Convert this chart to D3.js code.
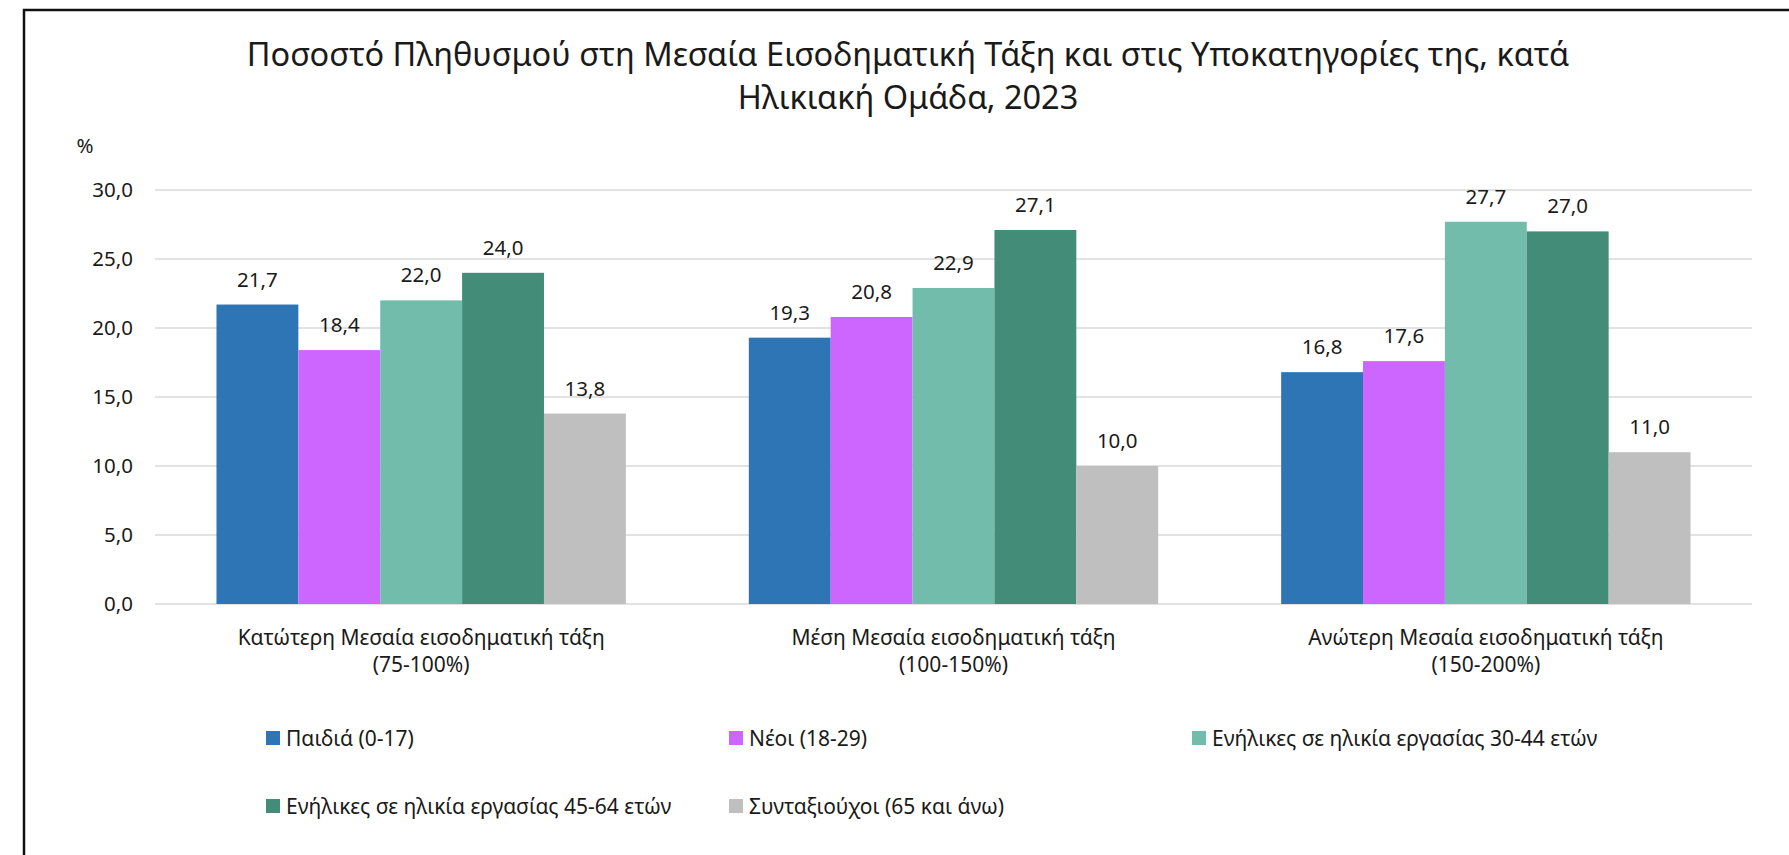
<!DOCTYPE html>
<html>
<head>
<meta charset="utf-8">
<script src="https://cdn.jsdelivr.net/npm/d3@7"></script>
<style>
  html, body { margin: 0; padding: 0; background: #fff; }
  svg { display: block; }
  text { font-family: "Noto Sans", "Open Sans", sans-serif; fill: #1a1a1a; }
</style>
</head>
<body>
<svg id="chart" width="1789" height="855"></svg>
<script>
// Income class groups (two-line category labels)
const categories = [
  ["Κατώτερη Μεσαία εισοδηματική τάξη", "(75-100%)"],
  ["Μέση Μεσαία εισοδηματική τάξη", "(100-150%)"],
  ["Ανώτερη Μεσαία εισοδηματική τάξη", "(150-200%)"]
];
// Age groups (series)
const seriesNames = [
  "Παιδιά (0-17)",
  "Νέοι (18-29)",
  "Ενήλικες σε ηλικία εργασίας 30-44 ετών",
  "Ενήλικες σε ηλικία εργασίας 45-64 ετών",
  "Συνταξιούχοι (65 και άνω)"
];
// Values per series, one entry per category
const children   = [21.7, 19.3, 16.8];
const young      = [18.4, 20.8, 17.6];
const adults3044 = [22.0, 22.9, 27.7];
const adults4564 = [24.0, 27.1, 27.0];
const pensioners = [13.8, 10.0, 11.0];
const seriesValues = [children, young, adults3044, adults4564, pensioners];
const seriesColors = ["#2E75B6", "#CC66FF", "#71BCAB", "#428C78", "#BFBFBF"];
const yTicks = [0, 5, 10, 15, 20, 25, 30];

const titleLines = [
  "Ποσοστό Πληθυσμού στη Μεσαία Εισοδηματική Τάξη και στις Υποκατηγορίες της, κατά",
  "Ηλικιακή Ομάδα, 2023"
];

const svg = d3.select("#chart");
const fmt = v => d3.format(".1f")(v).replace(".", ",");
const labelSize = "20.5px";

// Frame around the chart
svg.append("rect")
  .attr("x", 24).attr("y", 10)
  .attr("width", 1800).attr("height", 900)
  .attr("fill", "none").attr("stroke", "#111").attr("stroke-width", 2.5);

// Title
svg.append("g").selectAll("text").data(titleLines).join("text")
  .attr("x", 908).attr("y", (d, i) => 66 + i * 43)
  .attr("text-anchor", "middle")
  .style("font-size", "32.5px")
  .text(d => d);

const plot = { left: 155, right: 1752, top: 190, bottom: 604 };

const y = d3.scaleLinear().domain([0, 30]).range([plot.bottom, plot.top]);
const x0 = d3.scaleBand()
  .domain(d3.range(categories.length))
  .range([plot.left, plot.right])
  .paddingInner(0.231).paddingOuter(0.1155);
const x1 = d3.scaleBand()
  .domain(d3.range(seriesNames.length))
  .range([0, x0.bandwidth()]);

// Gridlines
svg.append("g").selectAll("line").data(yTicks).join("line")
  .attr("x1", plot.left).attr("x2", plot.right)
  .attr("y1", d => y(d)).attr("y2", d => y(d))
  .attr("stroke", "#d9d9d9").attr("stroke-width", 1.5);

// Y axis labels
const yAxis = d3.axisLeft(y).tickValues(yTicks).tickFormat(fmt).tickSize(0).tickPadding(0);
const yg = svg.append("g").attr("transform", `translate(133,0)`).call(yAxis);
yg.select(".domain").remove();
yg.selectAll("text").style("font-size", labelSize).attr("fill", "#1a1a1a")
  .style("font-family", "'Noto Sans', 'Open Sans', sans-serif");

svg.append("text").attr("x", 85).attr("y", 153).attr("text-anchor", "middle")
  .style("font-size", labelSize).text("%");

// Bars
const groups = svg.append("g").selectAll("g").data(categories.map((c, i) => i)).join("g")
  .attr("transform", i => `translate(${x0(i)},0)`);

groups.selectAll("rect")
  .data(ci => seriesValues.map((vals, si) => ({ si, v: vals[ci] })))
  .join("rect")
  .attr("x", d => x1(d.si))
  .attr("y", d => y(d.v))
  .attr("width", x1.bandwidth())
  .attr("height", d => y(0) - y(d.v))
  .attr("fill", d => seriesColors[d.si]);

groups.selectAll("text.val")
  .data(ci => seriesValues.map((vals, si) => ({ si, v: vals[ci] })))
  .join("text")
  .attr("class", "val")
  .attr("x", d => x1(d.si) + x1.bandwidth() / 2)
  .attr("y", d => y(d.v) - 18)
  .attr("text-anchor", "middle")
  .style("font-size", labelSize)
  .text(d => fmt(d.v));

// Category labels
const catG = svg.append("g").selectAll("text").data(categories).join("text")
  .attr("x", (d, i) => x0(i) + x0.bandwidth() / 2)
  .attr("text-anchor", "middle")
  .style("font-size", "21px");
catG.selectAll("tspan").data(d => d).join("tspan")
  .attr("x", function () { return this.parentNode.getAttribute("x"); })
  .attr("y", (d, i) => 645 + i * 27)
  .text(d => d);

// Legend
const legendCols = [266, 729, 1192];
const legendRows = [738, 806];
const legend = svg.append("g").selectAll("g").data(seriesNames).join("g")
  .attr("transform", (d, i) => `translate(${legendCols[i % 3]},${legendRows[Math.floor(i / 3)]})`);
legend.append("rect")
  .attr("x", 0).attr("y", -7).attr("width", 14).attr("height", 14)
  .attr("fill", (d, i) => seriesColors[i]);
legend.append("text")
  .attr("x", 20).attr("y", 7.5)
  .style("font-size", "21px")
  .text(d => d);
</script>
</body>
</html>
